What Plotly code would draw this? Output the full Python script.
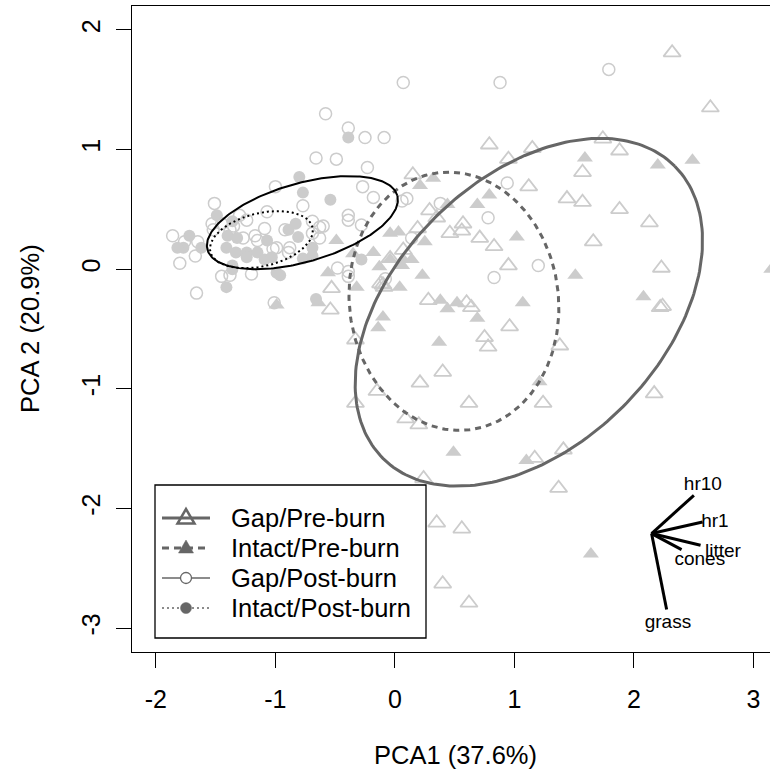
import numpy as np
import plotly.graph_objects as go

# ---------------- data (PCA scores) ----------------
gap_pre_x = [2.32, 2.64, 0.79, 1.15, 0.95, 1.74, 1.88, 1.57, 1.12, 1.44, 1.57, 1.88, 2.13, 1.66, 2.23,
             2.22, 2.24, 2.17, 0.15, 0.29, 0.35, 0.57, 0.46, 0.56, 0.71, 0.83, 0.95, 0.19, 0.07, -0.04,
             -0.10, -0.53, -0.54, 0.28, 0.60, 0.64, 0.96, 0.75, 0.78, 1.38, -0.33, 0.40, 0.21, -0.15,
             -0.33, 0.62, 1.24, 0.09, 0.20, 1.41, 1.17, 0.24, 1.37, 0.35, 0.56, 0.40, 0.62, -0.12, -0.09]
gap_pre_y = [1.81, 1.35, 1.04, 1.01, 0.92, 1.09, 0.99, 0.81, 0.69, 0.59, 0.56, 0.50, 0.39, 0.23, 0.01,
             -0.32, -0.31, -1.04, 0.79, 0.49, 0.43, 0.38, 0.30, 0.32, 0.26, 0.19, 0.03, 0.34, 0.16, 0.09,
             -0.13, -0.16, -0.34, -0.26, -0.28, -0.32, -0.48, -0.57, -0.65, -0.64, -0.59, -0.86, -0.95, -1.02,
             -1.12, -1.12, -1.12, -1.25, -1.30, -1.51, -1.58, -1.75, -1.83, -2.12, -2.17, -2.63, -2.79, -0.12, -0.15]

intact_pre_x = [1.59, 2.20, 2.49, 0.32, 0.21, 0.79, 0.69, 1.02, 1.51, 2.08, 1.07, 0.69, 0.38, 0.44, 0.52,
                0.37, -0.10, -0.14, 1.21, 0.49, 1.10, -0.04, 0.03, 0.25, -0.18, -0.04, 0.07, 0.14, -0.13,
                0.06, 0.23, 0.04, -0.32, -0.56, -0.49, -0.35, -0.64, -0.99, 1.64, 3.15, 0.44]
intact_pre_y = [0.93, 0.87, 0.91, 0.76, 0.70, 0.62, 0.54, 0.27, -0.05, -0.23, -0.28, -0.41, -0.26, -0.33, -0.28,
                -0.61, -0.40, -0.49, -0.94, -1.53, -1.60, 0.30, 0.31, 0.23, 0.14, 0.08, 0.08, 0.08, 0.02,
                0.03, -0.05, -0.15, -0.15, -0.03, 0.24, 0.13, -0.28, -0.30, -2.38, 0.00, 0.54]

gap_post_x = [1.79, 0.88, 0.07, -0.58, -0.39, -0.25, -0.09, -0.66, -0.49, -0.23, -0.27, -0.18, 0.10, 0.06,
              0.38, 0.94, 0.78, 1.20, 0.83, 0.14, -0.08, -0.39, -0.39, -0.28, -0.63, -0.63, -0.77, -1.00,
              -1.51, -1.07, -1.30, -1.24, -0.69, -0.60, -1.86, -1.76, -1.65, -1.80, -1.67, -1.52, -1.53,
              -1.45, -1.27, -1.17, -1.15, -1.09, -1.02, -0.92, -0.88, -0.89, -0.39, -0.39, -0.48, -1.45,
              -1.38, -1.20, -1.66, -1.01, -0.69, -0.99, -1.35, -1.38]
gap_post_y = [1.67, 1.56, 1.56, 1.30, 1.18, 1.10, 1.10, 0.93, 0.92, 0.85, 0.69, 0.60, 0.59, 0.57,
              0.55, 0.72, 0.43, 0.03, -0.07, 0.26, -0.08, 0.45, 0.41, 0.37, 0.35, 0.26, 0.53, 0.69,
              0.55, 0.48, 0.45, 0.41, 0.40, 0.36, 0.28, 0.23, 0.23, 0.05, 0.11, 0.33, 0.38,
              0.38, 0.26, 0.28, 0.24, 0.34, 0.17, 0.33, 0.18, 0.14, -0.02, -0.06, 0.01, -0.06,
              -0.05, -0.04, -0.20, -0.28, 0.30, 0.18, 0.36, 0.33]

intact_post_x = [-0.39, -0.54, -0.80, -0.77, -1.49, -1.36, -1.72, -1.62, -1.77, -1.82, -1.40, -1.32, -1.41,
                 -1.33, -1.24, -1.24, -1.15, -1.07, -0.83, -0.89, -0.81, -0.69, -0.69, -0.77, -1.09, -1.03,
                 -0.99, -0.96, -1.36, -1.36, -1.41, -0.28, -0.66]
intact_post_y = [1.10, 0.58, 0.77, 0.64, 0.45, 0.40, 0.28, 0.18, 0.18, 0.18, 0.28, 0.26, 0.18,
                 0.14, 0.14, 0.10, 0.14, 0.24, 0.38, 0.33, 0.27, 0.18, 0.11, 0.09, 0.08, 0.10,
                 -0.03, -0.05, 0.03, 0.00, -0.15, 0.08, -0.25]

# ellipse parameters per group: centre, semi-axes, rotation (deg)
groups = ["Gap/Pre-burn", "Intact/Pre-burn", "Gap/Post-burn", "Intact/Post-burn"]
ell_cx = [1.121, 0.494, -0.774, -1.117]
ell_cy = [-0.360, -0.268, 0.389, 0.247]
ell_a = [1.727, 1.082, 0.826, 0.440]
ell_b = [1.115, 0.875, 0.328, 0.222]
ell_angle = [45.0, 97.0, 16.0, 13.4]

# variable loadings (biplot arrows)
load_names = ["hr10", "hr1", "litter", "cones", "grass"]
load_x = [0.354, 0.427, 0.410, 0.251, 0.126]
load_y = [0.320, 0.097, -0.098, -0.134, -0.635]
arrow_origin = (2.148, -2.210)
label_x = [2.577, 2.678, 2.745, 2.552, 2.285]
label_y = [-1.806, -2.113, -2.364, -2.433, -2.960]

x_ticks = [-2, -1, 0, 1, 2, 3]
x_ticklabels = ["-2", "-1", "0", "1", "2", "3"]
y_ticks = [-3, -2, -1, 0, 1, 2]
y_ticklabels = ["-3", "-2", "-1", "0", "1", "2"]

# ---------------- styles ----------------
PT = "#cccccc"
LG = "#666666"
FONT = "Liberation Sans, Arial, sans-serif"
ell_style = [
    dict(color=LG, width=3, dash="solid"),
    dict(color=LG, width=3, dash="6px,5px"),
    dict(color="#000000", width=2, dash="solid"),
    dict(color="#000000", width=2, dash="2px,3px"),
]

fig = go.Figure()

# points
fig.add_trace(go.Scatter(x=gap_pre_x, y=gap_pre_y, mode="markers", showlegend=False,
                         marker=dict(symbol="triangle-up-open", size=15, color=PT, line=dict(width=1.8, color=PT))))
fig.add_trace(go.Scatter(x=intact_pre_x, y=intact_pre_y, mode="markers", showlegend=False,
                         marker=dict(symbol="triangle-up", size=14, color=PT, line=dict(width=0))))
fig.add_trace(go.Scatter(x=gap_post_x, y=gap_post_y, mode="markers", showlegend=False,
                         marker=dict(symbol="circle-open", size=12, color=PT, line=dict(width=1.5, color=PT))))
fig.add_trace(go.Scatter(x=intact_post_x, y=intact_post_y, mode="markers", showlegend=False,
                         marker=dict(symbol="circle", size=12, color=PT, line=dict(width=0))))

# ellipses
t = np.linspace(0, 2 * np.pi, 241)
for i in range(4):
    th = np.deg2rad(ell_angle[i])
    ex = ell_cx[i] + ell_a[i] * np.cos(t) * np.cos(th) - ell_b[i] * np.sin(t) * np.sin(th)
    ey = ell_cy[i] + ell_a[i] * np.cos(t) * np.sin(th) + ell_b[i] * np.sin(t) * np.cos(th)
    fig.add_trace(go.Scatter(x=ex, y=ey, mode="lines", showlegend=False, line=ell_style[i], hoverinfo="skip"))

# biplot arrows
ax_, ay_ = [], []
for dx, dy in zip(load_x, load_y):
    ax_ += [arrow_origin[0], arrow_origin[0] + dx, None]
    ay_ += [arrow_origin[1], arrow_origin[1] + dy, None]
fig.add_trace(go.Scatter(x=ax_, y=ay_, mode="lines", showlegend=False,
                         line=dict(color="black", width=3)))
fig.add_trace(go.Scatter(x=label_x, y=label_y, mode="text", text=load_names, showlegend=False,
                         textposition="middle center", textfont=dict(family=FONT, size=19, color="black")))

# ---------------- manual R-style legend (paper coords of plot area) ----------------
W, H = 638.0, 646.0          # plot-area size in px
L0, T0 = 132.0, 6.0          # plot-area offset in figure px
def px(x): return (x - L0) / W
def py(y): return (T0 + H - y) / H

shapes = []
annotations = []
shapes.append(dict(type="rect", xref="paper", yref="paper", x0=px(155), x1=px(426), y0=py(638), y1=py(485),
                   line=dict(color="black", width=1.3), fillcolor="white", layer="above"))
leg_rows = [518, 548, 578, 608]
leg_line = [dict(color=LG, width=3), dict(color=LG, width=3, dash="7px,5px"),
            dict(color=LG, width=1.3), dict(color=LG, width=1.3, dash="2px,3px")]
for i, g in enumerate(groups):
    yy = py(leg_rows[i])
    shapes.append(dict(type="line", xref="paper", yref="paper", x0=px(162), x1=px(210), y0=yy, y1=yy,
                       line=leg_line[i], layer="above"))
    annotations.append(dict(text=g, xref="paper", yref="paper", x=px(229), y=yy, xanchor="left",
                            yanchor="middle", showarrow=False, font=dict(family=FONT, size=25.5, color="black")))
mx = px(186)
# open triangle
shapes.append(dict(type="path", xref="paper", yref="paper", xsizemode="pixel", ysizemode="pixel",
                   xanchor=mx, yanchor=py(leg_rows[0]), path="M-8.5,-5.5 L8.5,-5.5 L0,9 Z",
                   line=dict(color=LG, width=2.5), fillcolor="rgba(0,0,0,0)", layer="above"))
# filled triangle
shapes.append(dict(type="path", xref="paper", yref="paper", xsizemode="pixel", ysizemode="pixel",
                   xanchor=mx, yanchor=py(leg_rows[1]), path="M-7.5,-5 L7.5,-5 L0,8 Z",
                   line=dict(color=LG, width=0.5), fillcolor=LG, layer="above"))
# open circle
shapes.append(dict(type="circle", xref="paper", yref="paper", xsizemode="pixel", ysizemode="pixel",
                   xanchor=mx, yanchor=py(leg_rows[2]), x0=-5.5, x1=5.5, y0=-5.5, y1=5.5,
                   line=dict(color=LG, width=1.3), fillcolor="white", layer="above"))
# filled circle
shapes.append(dict(type="circle", xref="paper", yref="paper", xsizemode="pixel", ysizemode="pixel",
                   xanchor=mx, yanchor=py(leg_rows[3]), x0=-5.5, x1=5.5, y0=-5.5, y1=5.5,
                   line=dict(color=LG, width=0.5), fillcolor=LG, layer="above"))

annotations += [
    dict(text="PCA1 (37.6%)", xref="paper", yref="paper", x=px(455), y=py(755),
         showarrow=False, font=dict(family=FONT, size=25.5), xanchor="center", yanchor="middle"),
    dict(text="PCA 2 (20.9%)", xref="paper", yref="paper", x=px(30), y=py(329), textangle=-90,
         showarrow=False, font=dict(family=FONT, size=25.5), xanchor="center", yanchor="middle"),
]

fig.update_layout(
    width=770, height=779,
    margin=dict(l=132, r=0, t=6, b=127),
    paper_bgcolor="white", plot_bgcolor="white",
    font=dict(family=FONT, size=24, color="black"),
    showlegend=False,
    xaxis=dict(range=[-2.2, 3.139], tickvals=x_ticks, ticktext=x_ticklabels, ticks="outside", ticklen=15,
               tickwidth=1, tickcolor="black", showline=True, mirror=True, linecolor="black", linewidth=1.3,
               showgrid=False, zeroline=False, ticklabelstandoff=10,
               tickfont=dict(family=FONT, size=25)),
    yaxis=dict(range=[-3.2, 2.2], tickvals=y_ticks, ticktext=y_ticklabels, ticks="outside", ticklen=15,
               tickwidth=1, tickcolor="black", showline=True, mirror=False, linecolor="black", linewidth=1.3,
               showgrid=False, zeroline=False, tickangle=-90, ticklabelstandoff=6,
               tickfont=dict(family=FONT, size=25)),
    shapes=shapes,
    annotations=annotations,
)

fig.write_html("out.html")
